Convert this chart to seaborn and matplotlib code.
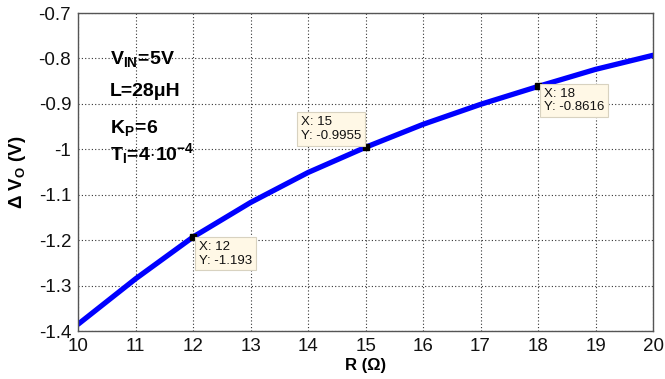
import matplotlib
matplotlib.use("Agg")
import matplotlib.pyplot as plt
import seaborn as sns
import pandas as pd

# Output voltage deviation versus load resistance
r_ohm = [10, 11, 12, 13, 14, 15, 16, 17, 18, 19, 20]
delta_vo = [-1.385, -1.285, -1.193, -1.117, -1.051, -0.9955, -0.945, -0.901, -0.8616, -0.824, -0.793]

# Marked data tips: (R, ΔVo, offset in points, alignment)
tip_r = [12, 15, 18]
tip_v = [-1.193, -0.9955, -0.8616]
tip_offsets = [(4, -3), (-3, 4), (4, -1)]
tip_align = [("left", "top"), ("right", "bottom"), ("left", "top")]

x_ticks = list(range(10, 21))
y_ticks = [-1.4, -1.3, -1.2, -1.1, -1.0, -0.9, -0.8, -0.7]
y_tick_labels = ["-1.4", "-1.3", "-1.2", "-1.1", "-1", "-0.9", "-0.8", "-0.7"]

sns.set_theme(style="white")
plt.rcParams["font.family"] = ["Liberation Sans", "DejaVu Sans"]
plt.rcParams["text.color"] = "black"
plt.rcParams["axes.labelcolor"] = "black"
plt.rcParams["mathtext.fontset"] = "custom"
plt.rcParams["mathtext.rm"] = "Liberation Sans"
plt.rcParams["mathtext.it"] = "Liberation Sans:italic"
plt.rcParams["mathtext.bf"] = "Liberation Sans:bold"

df = pd.DataFrame({"R": r_ohm, "dVo": delta_vo})

fig = plt.figure(figsize=(6.65, 3.79), dpi=100)
ax = fig.add_axes([0.1175, 0.1266, 0.8645, 0.839])

sns.lineplot(data=df, x="R", y="dVo", ax=ax, color="#0000ff", linewidth=3.8)

ax.set_xlim(10, 20)
ax.set_ylim(-1.4, -0.7)
ax.set_xticks(x_ticks)
ax.set_yticks(y_ticks)
ax.set_yticklabels(y_tick_labels)
ax.tick_params(axis="both", labelsize=13.5, colors="#111111", length=0, pad=5)
ax.grid(True, linestyle=(0, (1, 2)), color="#333333", linewidth=0.8)
for s in ax.spines.values():
    s.set_color("#555555")
    s.set_linewidth(1.0)

ax.set_xlabel("R (Ω)", fontsize=12, fontweight="bold")
ax.set_ylabel(r"$\mathbf{\Delta\ V_O\ (V)}$", fontsize=13.5)
ax.xaxis.set_label_coords(0.5, -0.085)
ax.yaxis.set_label_coords(-0.088, 0.5)

# Parameter block
ax.text(0.055, 0.855, r"$\mathbf{V_{IN}\!=\!5V}$", transform=ax.transAxes,
        fontsize=14, va="center", ha="left")
ax.text(0.055, 0.752, "L=28μH", transform=ax.transAxes, fontsize=14,
        fontweight="bold", va="center", ha="left")
ax.text(0.055, 0.64, r"$\mathbf{K_P\!=\!6}$", transform=ax.transAxes,
        fontsize=14, va="center", ha="left")
ax.text(0.055, 0.558, r"$\mathbf{T_I\!=\!4{\cdot}10^{-4}}$", transform=ax.transAxes,
        fontsize=14, va="center", ha="left")

# Data tips
for r, v, off, (ha, va) in zip(tip_r, tip_v, tip_offsets, tip_align):
    ax.plot([r], [v], marker="s", markersize=4.5, color="black", zorder=5)
    label = f"X: {r}\nY: {v:g}"
    ax.annotate(label, xy=(r, v), xytext=off, textcoords="offset points",
                ha=ha, va=va, multialignment="left", fontsize=9.5,
                color="#111111", linespacing=1.15,
                bbox=dict(boxstyle="square,pad=0.3", facecolor="#fff8e6",
                          edgecolor="#d8d2c0", linewidth=0.8),
                zorder=6)

fig.savefig("out.png", dpi=100)
